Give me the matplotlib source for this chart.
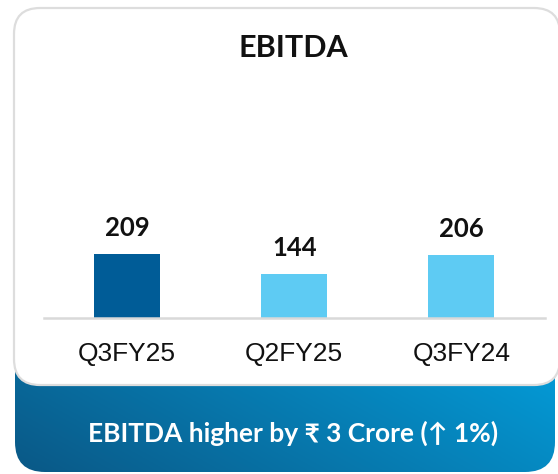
import numpy as np
import matplotlib
matplotlib.use("Agg")
import matplotlib.pyplot as plt
from matplotlib.patches import FancyBboxPatch
from matplotlib.colors import to_rgb

# ------------------------------------------------------------
# data
# ------------------------------------------------------------
categories = ["Q3FY25", "Q2FY25", "Q3FY24"]
values = [209, 144, 206]
bar_colors = ["#005c97", "#5ecbf3", "#5ecbf3"]
title = "EBITDA"
footer = "EBITDA higher by ₹ 3 Crore (↑ 1%)"

FONT = ["Lato", "DejaVu Sans"]
TICK_FONT = ["Liberation Sans", "DejaVu Sans"]
W, H = 558, 474

fig = plt.figure(figsize=(W / 100, H / 100), dpi=100)

# background axes in pixel coords (y downward)
bg = fig.add_axes([0, 0, 1, 1])
bg.set_xlim(0, W)
bg.set_ylim(H, 0)
bg.axis("off")

# blue banner with gradient
banner = FancyBboxPatch((15, 330), 540, 142, boxstyle="round,pad=0,rounding_size=30",
                        fc="none", ec="none")
bg.add_patch(banner)
c_dark = np.array(to_rgb("#0a5886"))
c_light = np.array(to_rgb("#049ad6"))
gx, gy = np.meshgrid(np.linspace(0, 1, 300), np.linspace(0, 1, 100))
t = np.clip(0.75 * gx + 0.35 * (1 - gy), 0, 1)
grad = c_dark[None, None, :] * (1 - t[..., None]) + c_light[None, None, :] * t[..., None]
im = bg.imshow(grad, extent=[15, 555, 472, 330], aspect="auto", zorder=1)
im.set_clip_path(banner)

# white card
card = FancyBboxPatch((14, 8), 546, 377, boxstyle="round,pad=0,rounding_size=26",
                      fc="white", ec="#dddddd", lw=1.6, zorder=2)
bg.add_patch(card)

bg.text(293, 48, title, ha="center", va="center", fontsize=22, fontweight="bold",
        family=FONT, color="#111111", zorder=3)
bg.text(293, 433, footer, ha="center", va="center", fontsize=19, fontweight="bold",
        family=FONT, color="white", zorder=3)

# ------------------------------------------------------------
# bar chart
# ------------------------------------------------------------
x0, x1 = 43.5, 545
base_y = 318
ymax = 250
px_per_unit = 64 / 209
ax_h = ymax * px_per_unit
ax = fig.add_axes([x0 / W, (H - base_y) / H, (x1 - x0) / W, ax_h / H], zorder=3)
ax.patch.set_alpha(0)

xs = np.arange(len(categories))
ax.bar(xs, values, width=0.395, color=bar_colors, zorder=2)
ax.set_xlim(-0.5, len(categories) - 0.5)
ax.set_ylim(0, ymax)

for x, v in zip(xs, values):
    ax.annotate(f"{v}", (x, v), xytext=(0, 14), textcoords="offset pixels",
                ha="center", va="bottom", fontsize=18.5, fontweight="bold",
                family=FONT, color="#111111")

for s in ["top", "right", "left"]:
    ax.spines[s].set_visible(False)
ax.spines["bottom"].set_color("#d9d9d9")
ax.spines["bottom"].set_linewidth(1.8)
ax.set_yticks([])
ax.set_xticks(xs)
ax.set_xticklabels(categories, fontsize=19, family=TICK_FONT, color="#111111")
ax.tick_params(axis="x", length=0, pad=17)

fig.savefig("out.png", dpi=100)
